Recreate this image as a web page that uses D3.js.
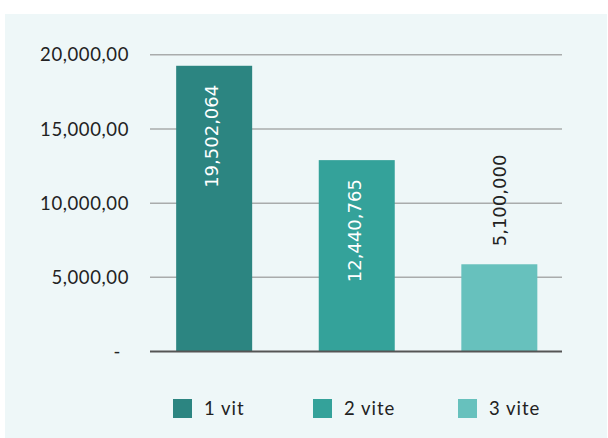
<!DOCTYPE html>
<html><head><meta charset="utf-8">
<script src="https://cdn.jsdelivr.net/npm/d3@7"></script>
<style>html,body{margin:0;padding:0;background:#fff;}svg{display:block;}</style>
</head><body>
<script>
const categories = ["1 vit", "2 vite", "3 vite"];
const values = [19260, 12900, 5880];
const valueLabels = ["19,502,064", "12,440,765", "5,100,000"];
const tickValues = [0, 5000, 10000, 15000, 20000];
const tickLabels = ["-", "5,000,00", "10,000,00", "15,000,00", "20,000,00"];
const colors = ["#2c8581", "#34a29a", "#67c1bd"];

const W = 608, H = 438;
const svg = d3.select("body").append("svg").attr("width", W).attr("height", H);
svg.append("rect").attr("x", 5).attr("y", 14).attr("width", 602).attr("height", H - 14).attr("fill", "#eef7f8");

const y = d3.scaleLinear().domain([0, 20000]).range([351.5, 54.8]);
const x = d3.scalePoint().domain(categories).range([150, 563.5]).padding(0.45);
const bw = 76;

const font = "Lato, 'Open Sans', sans-serif";

// grid
svg.append("g").selectAll("line").data(tickValues.filter(d => d > 0)).join("line")
  .attr("x1", 150).attr("x2", 562).attr("y1", d => y(d)).attr("y2", d => y(d))
  .attr("stroke", "#a9acac").attr("stroke-width", 1.5);

// y labels
svg.append("g").selectAll("text").data(tickValues).join("text")
  .attr("x", 129).attr("y", d => y(d)).attr("dy", "0.36em")
  .attr("dx", d => d === 0 ? -8 : 0)
  .attr("text-anchor", "end").attr("font-family", font).attr("font-size", 18.5)
  .attr("letter-spacing", 0.6)
  .attr("fill", "#222").text((d, i) => tickLabels[i]);

// bars
svg.append("g").selectAll("rect").data(values).join("rect")
  .attr("x", (d, i) => x(categories[i]) - bw / 2).attr("width", bw)
  .attr("y", d => y(d)).attr("height", d => y(0) - y(d))
  .attr("fill", (d, i) => colors[i]);

// baseline
svg.append("line").attr("x1", 150).attr("x2", 562).attr("y1", y(0)).attr("y2", y(0))
  .attr("stroke", "#555", ).attr("stroke-width", 2);

// value labels
svg.append("g").selectAll("text").data(values).join("text")
  .attr("transform", (d, i) => {
    const cx = x(categories[i]) - (i < 2 ? 2 : 0);
    const ty = i < 2 ? y(d) + 19 : y(d) - 18;
    return `translate(${cx},${ty}) rotate(-90)`;
  })
  .attr("dy", "0.35em")
  .attr("text-anchor", (d, i) => i < 2 ? "end" : "start")
  .attr("font-family", "'DejaVu Sans', sans-serif").attr("font-size", 18)
  .attr("fill", (d, i) => i < 2 ? "#fff" : "#222")
  .text((d, i) => valueLabels[i]);

// legend
const legX = [173, 313, 458];
const lg = svg.append("g").selectAll("g").data(categories).join("g")
  .attr("transform", (d, i) => `translate(${legX[i]},399)`);
lg.append("rect").attr("width", 19).attr("height", 19).attr("fill", (d, i) => colors[i]);
lg.append("text").attr("x", 31).attr("y", 9.5).attr("dy", "0.36em")
  .attr("font-family", font).attr("font-size", 18.5).attr("letter-spacing", 1)
  .attr("fill", "#222").text(d => d);
</script>
</body></html>
